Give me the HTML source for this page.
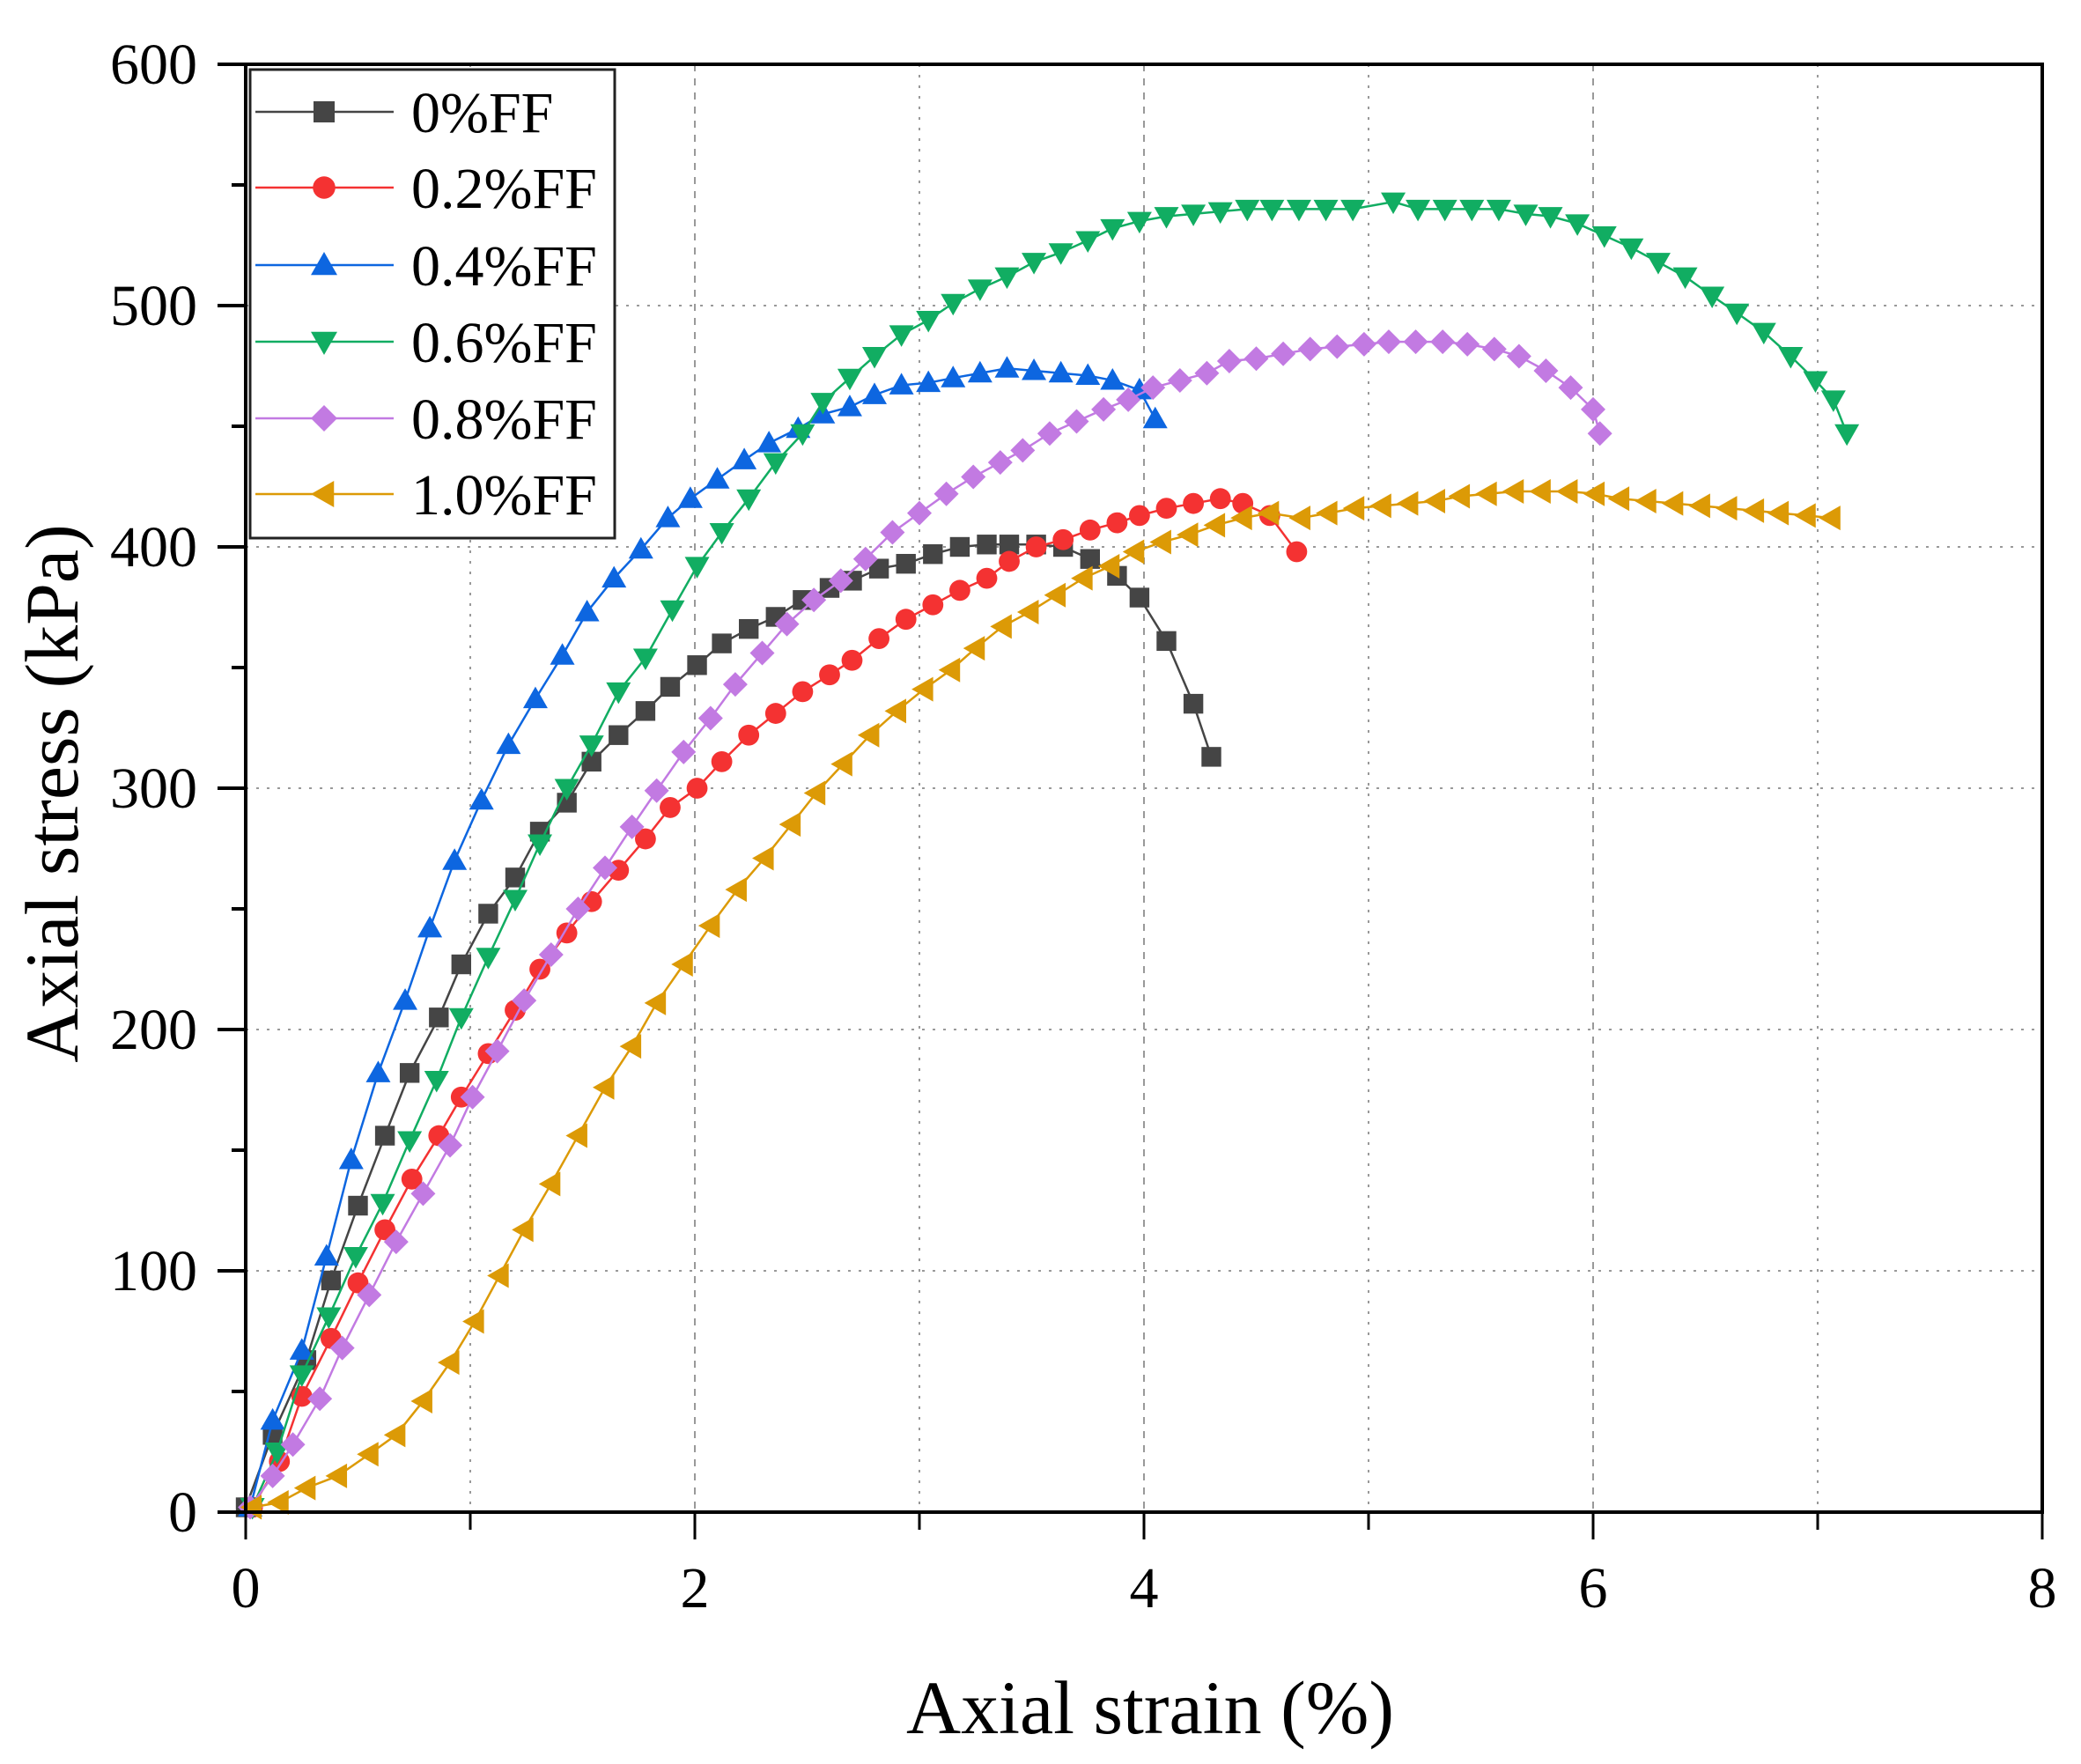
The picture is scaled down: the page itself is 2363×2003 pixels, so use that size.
<!DOCTYPE html>
<html><head><meta charset="utf-8"><style>
html,body{margin:0;padding:0;background:#fff}
svg{display:block;font-family:"Liberation Serif",serif}
</style></head><body>
<svg id="chart" width="2363" height="2003" viewBox="0 0 2363 2003" xmlns="http://www.w3.org/2000/svg">
<g id="grid"></g>
<g id="series"></g>
<g id="axes"></g>
<g id="legend"></g>
<text x="1306" y="1968" font-size="86" text-anchor="middle">Axial strain (%)</text>
<text transform="translate(88,901) rotate(-90)" font-size="86" text-anchor="middle">Axial stress (kPa)</text>
</svg>
<script>
const xTicks=[0,2,4,6,8];
const yTicks=[0,100,200,300,400,500,600];
const seriesNames=["0%FF","0.2%FF","0.4%FF","0.6%FF","0.8%FF","1.0%FF"];
const s0x=[0,0.12,0.27,0.38,0.50,0.62,0.73,0.86,0.96,1.08,1.20,1.31,1.43,1.54,1.66,1.78,1.89,2.01,2.12,2.24,2.36,2.48,2.60,2.70,2.82,2.94,3.06,3.18,3.30,3.40,3.52,3.64,3.76,3.88,3.98,4.10,4.22,4.30];
const s0y=[2,32,63,96,127,156,182,205,227,248,263,282,294,311,322,332,342,351,360,366,371,378,383,386,391,393,397,400,401,401,401,400,395,388,379,361,335,313];
const s1x=[0.03,0.15,0.25,0.38,0.5,0.62,0.74,0.86,0.96,1.08,1.2,1.31,1.43,1.54,1.66,1.78,1.89,2.01,2.12,2.24,2.36,2.48,2.6,2.7,2.82,2.94,3.06,3.18,3.3,3.4,3.52,3.64,3.76,3.88,3.98,4.1,4.22,4.34,4.44,4.56,4.68];
const s1y=[2,21,48,72,95,117,138,156,172,190,208,225,240,253,266,279,292,300,311,322,331,340,347,353,362,370,376,382,387,394,400,403,407,410,413,416,418,420,418,413,398];
const s2x=[0.02,0.12,0.25,0.36,0.47,0.59,0.71,0.82,0.93,1.05,1.17,1.29,1.41,1.52,1.64,1.76,1.88,1.98,2.1,2.22,2.33,2.46,2.57,2.69,2.8,2.92,3.04,3.15,3.27,3.39,3.51,3.63,3.75,3.86,3.98,4.05];
const s2y=[2,38,67,106,146,182,212,242,270,295,318,337,355,373,387,399,412,420,428,436,443,449,455,458,463,467,468,470,472,474,473,472,471,469,465,453];
const s3x=[0.03,0.14,0.25,0.37,0.49,0.61,0.73,0.85,0.96,1.08,1.2,1.31,1.43,1.54,1.66,1.78,1.9,2.01,2.12,2.24,2.36,2.48,2.57,2.69,2.8,2.92,3.04,3.15,3.27,3.39,3.51,3.63,3.75,3.86,3.98,4.1,4.22,4.34,4.46,4.57,4.69,4.81,4.93,5.11,5.22,5.34,5.46,5.58,5.7,5.81,5.93,6.05,6.17,6.29,6.41,6.53,6.64,6.76,6.88,6.99,7.07,7.13];
const s3y=[2,25,57,81,106,128,154,179,205,230,254,277,300,318,340,354,374,392,406,420,435,447,460,470,479,488,494,501,507,512,518,522,527,532,535,537,538,539,540,540,540,540,540,543,540,540,540,540,538,537,534,529,524,518,512,504,497,489,479,469,461,447];
const s4x=[0.02,0.12,0.21,0.33,0.43,0.55,0.67,0.79,0.91,1.01,1.12,1.24,1.36,1.48,1.6,1.72,1.83,1.95,2.07,2.18,2.3,2.41,2.53,2.65,2.76,2.88,3.0,3.12,3.24,3.36,3.46,3.58,3.7,3.82,3.93,4.04,4.16,4.28,4.38,4.5,4.62,4.74,4.86,4.98,5.09,5.21,5.33,5.44,5.56,5.67,5.79,5.9,6.0,6.03];
const s4y=[2,15,28,47,68,90,112,132,152,172,191,212,231,250,267,284,299,315,329,343,356,368,378,386,395,406,414,422,429,435,440,447,452,457,461,466,469,472,477,478,480,482,483,484,485,485,485,484,482,479,473,466,457,447];
const s5x=[0.03,0.15,0.27,0.41,0.55,0.67,0.79,0.91,1.02,1.13,1.24,1.36,1.48,1.6,1.72,1.83,1.95,2.07,2.19,2.31,2.43,2.54,2.66,2.78,2.9,3.02,3.14,3.25,3.37,3.49,3.61,3.73,3.85,3.96,4.08,4.2,4.32,4.44,4.56,4.7,4.82,4.94,5.06,5.18,5.3,5.41,5.53,5.65,5.77,5.89,6.01,6.12,6.24,6.36,6.48,6.6,6.72,6.83,6.95,7.06];
const s5y=[2,4,10,15,24,32,46,62,79,98,117,136,156,176,193,211,227,243,258,271,285,298,310,322,332,341,349,358,367,373,380,387,392,398,402,405,409,412,414,412,414,416,417,418,419,421,422,423,423,423,422,420,419,418,417,416,415,414,413,412];
const colors=["#454545","#f43232","#0d66e0","#11ad62","#c27ae2","#dc9a06"];
const markers=["square","circle","up","down","diamond","left"];
const X0=279,X1=2319,Y0=1717,Y1=73;
const xs=v=>X0+(v-0)/(8-0)*(X1-X0);
const ys=v=>Y0-(v-0)/(600-0)*(Y0-Y1);
const NS="http://www.w3.org/2000/svg";
function mk(tag,attrs,parent){const e=document.createElementNS(NS,tag);for(const k in attrs)e.setAttribute(k,attrs[k]);parent.appendChild(e);return e;}
const grid=document.getElementById('grid'),axes=document.getElementById('axes'),ser=document.getElementById('series'),leg=document.getElementById('legend');
[1,2,3,4,5,6,7].forEach(v=>{const l=mk('line',{x1:xs(v),x2:xs(v),y1:Y1,y2:Y0,stroke:'#999','stroke-width':2,'stroke-dasharray':v%2?'3,9':'8,8'},grid);

});
[100,200,300,400,500].forEach(v=>{const l=mk('line',{x1:X0,x2:X1,y1:ys(v),y2:ys(v),stroke:'#999','stroke-width':2,'stroke-dasharray':'3,9'},grid);

});
const fr=mk('rect',{x:X0,y:Y1,width:X1-X0,height:Y0-Y1,fill:'none',stroke:'#000','stroke-width':4},axes);


for(let v=0;v<=8;v++){const l=mk('line',{x1:xs(v),x2:xs(v),y1:Y0,y2:Y0+(v%2?20:31),stroke:'#000','stroke-width':3},axes);

}
xTicks.forEach(v=>{const t=mk('text',{x:xs(v),y:1825,'font-size':66,'text-anchor':'middle'},axes);t.textContent=v;

});
for(let v=0;v<=600;v+=50){const l=mk('line',{x1:X0-(v%100?16:32),x2:X0,y1:ys(v),y2:ys(v),stroke:'#000','stroke-width':4},axes);

}
yTicks.forEach(v=>{const t=mk('text',{x:224,y:ys(v)+22,'font-size':66,'text-anchor':'end'},axes);t.textContent=v;

});
function marker(type,cx,cy,c,parent,r){
 let e;
 if(type==='square')e=mk('rect',{x:cx-r*0.8,y:cy-r*0.8,width:r*1.6,height:r*1.6,fill:c},parent);
 else if(type==='circle')e=mk('circle',{cx:cx,cy:cy,r:r*0.85,fill:c},parent);
 else{let p;
  if(type==='up')p=[[0,-r],[r,r*0.75],[-r,r*0.75]];
  else if(type==='down')p=[[0,r],[r,-r*0.75],[-r,-r*0.75]];
  else if(type==='diamond')p=[[0,-r],[r,0],[0,r],[-r,0]];
  else p=[[-r,0],[r*0.75,-r],[r*0.75,r]];
  e=mk('polygon',{points:p.map(q=>(cx+q[0])+','+(cy+q[1])).join(' '),fill:c},parent);}
 return e;}
const SX=[s0x,s1x,s2x,s3x,s4x,s5x],SY=[s0y,s1y,s2y,s3y,s4y,s5y];
SX.forEach((xa,i)=>{
 const g=mk('g',{},ser);
 
 
 const pl=mk('polyline',{points:xa.map((x,j)=>xs(x)+','+ys(SY[i][j])).join(' '),fill:'none',stroke:colors[i],'stroke-width':2.5},g);
 
 
 xa.forEach((x,j)=>{const m=marker(markers[i],xs(x),ys(SY[i][j]),colors[i],g,14);
 
 });
});
const lb=mk('rect',{x:284,y:79,width:414,height:532,fill:'#fff',stroke:'#222','stroke-width':3},leg);


const rowsY=[127,213,301,388,475,561];
seriesNames.forEach((n,i)=>{
 const g=mk('g',{},leg);
 
 
 mk('line',{x1:290,x2:447,y1:rowsY[i],y2:rowsY[i],stroke:colors[i],'stroke-width':2.5},g);
 marker(markers[i],368,rowsY[i],colors[i],g,15);
 const t=mk('text',{x:467,y:rowsY[i]+23,'font-size':66},g);t.textContent=n;
 
 
});
</script>
</body></html>
